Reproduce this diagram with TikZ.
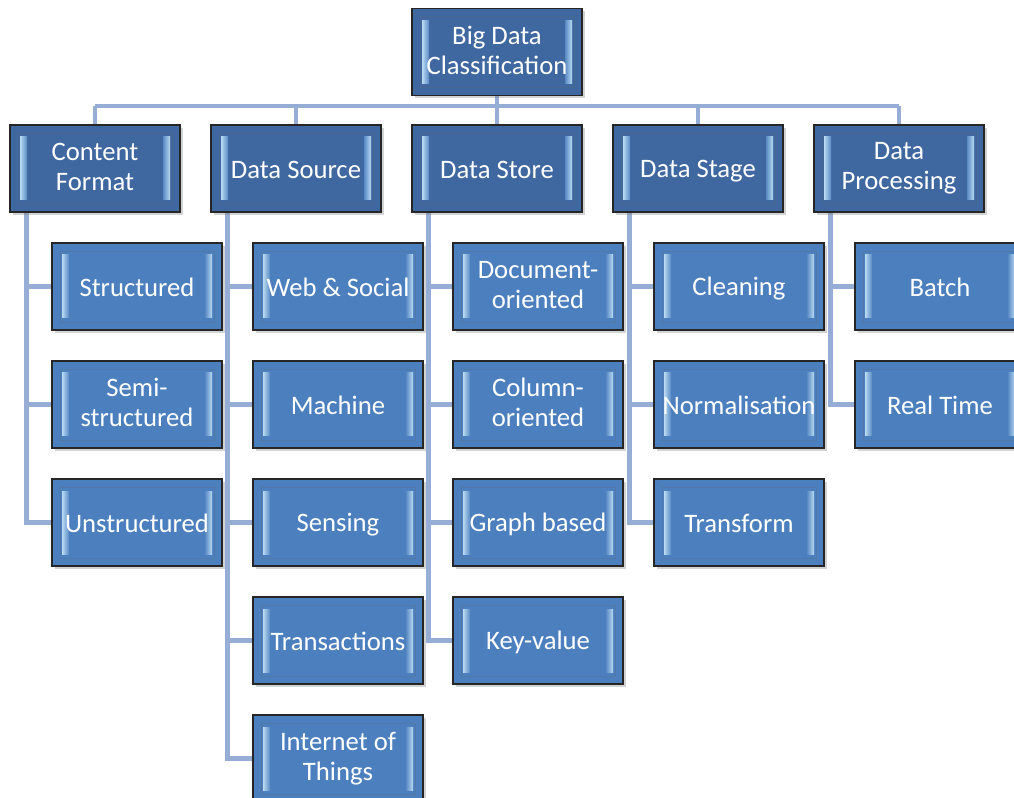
\documentclass[tikz,border=0pt]{standalone}
\usepackage{fontspec}
\setmainfont{Carlito}
\usetikzlibrary{shadows,backgrounds}
\definecolor{lvA}{RGB}{63,104,160}
\definecolor{lvB}{RGB}{76,127,190}
\definecolor{conn}{RGB}{150,174,214}
\definecolor{hl}{RGB}{205,235,252}
\begin{document}
\begin{tikzpicture}[x=0.75pt,y=-0.75pt,
  box/.style={rectangle, minimum width=127.5pt, minimum height=65.25pt, inner sep=0pt,
    draw=black!85, line width=1.2pt, text=white, align=center,
    font=\fontsize{20}{22.5}\selectfont,
    execute at begin node={\rule{0pt}{17.25pt}},
    execute at end node={\rule[-2.75pt]{0pt}{2.75pt}},
    drop shadow={shadow xshift=2pt, shadow yshift=-2.2pt, opacity=0.35},
    path picture={
      \draw[black!60, line width=0.4pt, opacity=0.25] ([shift={(8,8)}]path picture bounding box.north west) rectangle ([shift={(-8,-8)}]path picture bounding box.south east);
      \shade[left color=hl!85!lvB, right color=lvB!90!hl] ([shift={(10,12)}]path picture bounding box.north west) rectangle ([shift={(17,-12)}]path picture bounding box.south west);
      \shade[left color=lvB!90!hl, right color=hl!85!lvB] ([shift={(-17,12)}]path picture bounding box.north east) rectangle ([shift={(-10,-12)}]path picture bounding box.south east);
    }},
  topbox/.style={box, fill=lvA},
  subbox/.style={box, fill=lvB},
  link/.style={draw=conn, line width=3.6pt}
]
\useasboundingbox (0,0) rectangle (1014,798);
\node[topbox] (root) at (497,52) {Big Data\\Classification};
\node[topbox] (cf) at (95,168.5) {Content\\Format};
\node[topbox] (ds) at (296,168.5) {Data Source};
\node[topbox] (st) at (497,168.5) {Data Store};
\node[topbox] (sg) at (698,168.5) {Data Stage};
\node[topbox] (dp) at (899,168.5) {Data\\Processing};

\node[subbox] (cf1) at (137,286.5) {Structured};
\node[subbox] (cf2) at (137,404.5) {Semi-\\structured};
\node[subbox] (cf3) at (137,522.5) {Unstructured};

\node[subbox] (ds1) at (338,286.5) {Web \& Social};
\node[subbox] (ds2) at (338,404.5) {Machine};
\node[subbox] (ds3) at (338,522.5) {Sensing};
\node[subbox] (ds4) at (338,640.5) {Transactions};
\node[subbox] (ds5) at (338,758.5) {Internet of\\Things};

\node[subbox] (st1) at (538,286.5) {Document-\\oriented};
\node[subbox] (st2) at (538,404.5) {Column-\\oriented};
\node[subbox] (st3) at (538,522.5) {Graph based};
\node[subbox] (st4) at (538,640.5) {Key-value};

\node[subbox] (sg1) at (739,286.5) {Cleaning};
\node[subbox] (sg2) at (739,404.5) {Normalisation};
\node[subbox] (sg3) at (739,522.5) {Transform};

\node[subbox] (dp1) at (940,286.5) {Batch};
\node[subbox] (dp2) at (940,404.5) {Real Time};

\coordinate (busL) at (95,106);
\coordinate (busR) at (899,106);

\begin{scope}[on background layer]
  \draw[link] (busL) -- (busR);
  \draw[link] (root.south) -- (root.south |- busL);
  \foreach \n in {cf,ds,st,sg,dp} {
    \draw[link] (\n.north) -- (\n.north |- busL);
    \coordinate (\n v) at ([shift={(17,0)}]\n.south west);
  }
  \foreach \c in {cf1,cf2,cf3} \draw[link] (cfv) |- (\c.west);
  \foreach \c in {ds1,ds2,ds3,ds4,ds5} \draw[link] (dsv) |- (\c.west);
  \foreach \c in {st1,st2,st3,st4} \draw[link] (stv) |- (\c.west);
  \foreach \c in {sg1,sg2,sg3} \draw[link] (sgv) |- (\c.west);
  \foreach \c in {dp1,dp2} \draw[link] (dpv) |- (\c.west);
\end{scope}
\end{tikzpicture}
\end{document}
